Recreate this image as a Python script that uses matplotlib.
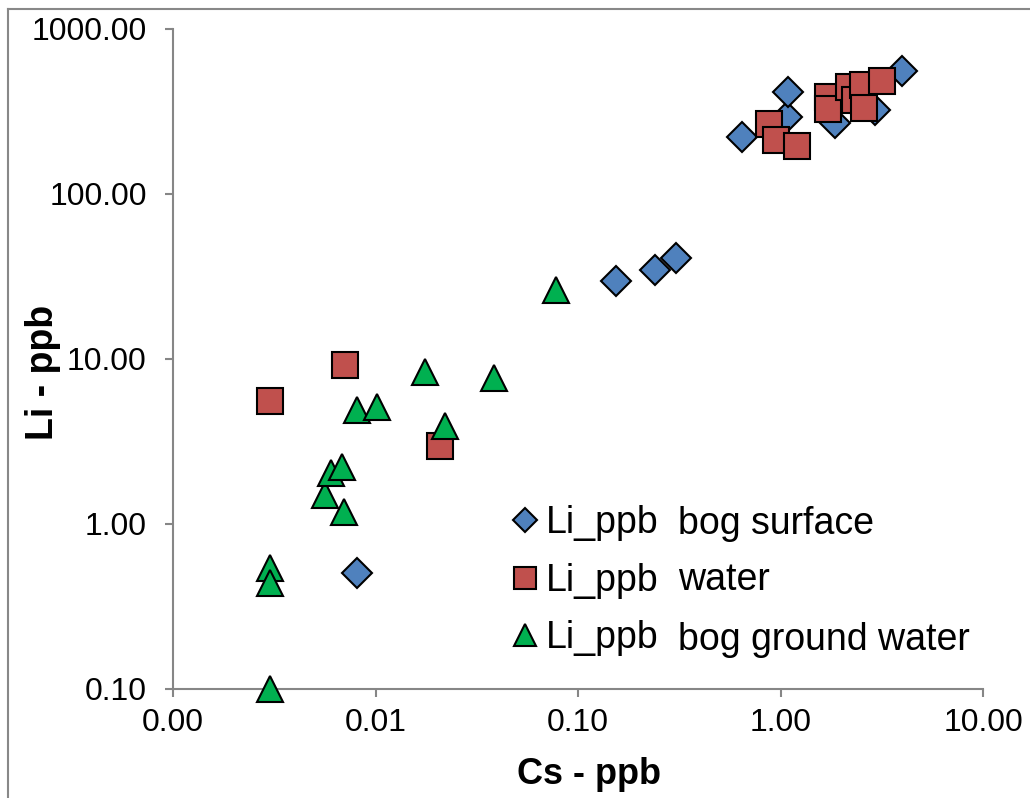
"""
Li vs Cs scatter (log-log) for bog surface, water and bog ground water.
"""

import matplotlib
matplotlib.use("Agg")
import matplotlib.pyplot as plt
from matplotlib.lines import Line2D
from matplotlib.ticker import FixedLocator, FuncFormatter, NullLocator

plt.rcParams["font.family"] = ["Liberation Sans", "DejaVu Sans"]

# Data (ppb)
bog_surface_cs = [0.00811, 0.154, 0.240, 0.305, 0.643, 1.08, 1.093, 1.858, 2.93, 3.97]
bog_surface_li = [0.505, 29.7, 34.6, 41.0, 222, 294, 417, 268, 323, 559]

water_cs = [0.00301, 0.00707, 0.0208, 0.877, 0.950, 1.206, 1.717, 1.717,
            2.18, 2.33, 2.55, 2.58, 3.17]
water_li = [5.56, 9.2, 2.97, 265, 212, 195, 387, 328, 445, 371, 458, 332, 484]

ground_cs = [0.00301, 0.00301, 0.00301, 0.00563, 0.00603, 0.00683, 0.00699,
             0.00811, 0.01017, 0.01755, 0.0385, 0.0220, 0.0778]
ground_li = [0.10, 0.541, 0.439, 1.50, 2.04, 2.21, 1.18, 4.91, 5.12, 8.34,
             7.67, 3.93, 26.2]

series_names = ["Li_ppb", "Li_ppb", "Li_ppb"]
series_notes = ["bog surface", "water", "bog ground water"]
x_ticks = [0.001, 0.01, 0.1, 1, 10]
y_ticks = [0.1, 1, 10, 100, 1000]

fig = plt.figure(figsize=(10.3, 7.98), dpi=100)
ax = fig.add_axes([0.168, 0.1366, 0.7864, 0.8271])

# Draw series in Excel order so later ones sit on top
ax.plot(bog_surface_cs, bog_surface_li, linestyle="none", marker="D",
        markersize=15, markerfacecolor="#4F81BD", markeredgecolor="black",
        markeredgewidth=1.5, label=series_names[0], clip_on=False, zorder=3)
ax.plot(water_cs, water_li, linestyle="none", marker="s",
        markersize=19, markerfacecolor="#C0504D", markeredgecolor="black",
        markeredgewidth=1.5, label=series_names[1], clip_on=False, zorder=3)
ax.plot(ground_cs, ground_li, linestyle="none", marker="^",
        markersize=19, markerfacecolor="#00B050", markeredgecolor="black",
        markeredgewidth=1.5, label=series_names[2], clip_on=False, zorder=3)

ax.set_xscale("log")
ax.set_yscale("log")
ax.set_xlim(0.001, 10)
ax.set_ylim(0.1, 1000)

fmt = FuncFormatter(lambda v, pos: f"{v:.2f}")
ax.xaxis.set_major_locator(FixedLocator(x_ticks))
ax.yaxis.set_major_locator(FixedLocator(y_ticks))
ax.xaxis.set_major_formatter(fmt)
ax.yaxis.set_major_formatter(fmt)
ax.xaxis.set_minor_locator(NullLocator())
ax.yaxis.set_minor_locator(NullLocator())

for side in ["top", "right"]:
    ax.spines[side].set_visible(False)
for side in ["left", "bottom"]:
    ax.spines[side].set_color("#868686")
    ax.spines[side].set_linewidth(1.5)
    ax.spines[side].set_zorder(0)

ax.tick_params(axis="both", direction="out", length=6, width=1.5,
               color="#868686", labelsize=23)
ax.tick_params(axis="x", pad=8)
ax.tick_params(axis="y", pad=13)

ax.set_xlabel("Cs - ppb", fontsize=26, fontweight="bold", va="center")
ax.set_ylabel("Li - ppb", fontsize=27, fontweight="bold", va="center")
ax.xaxis.set_label_coords(0.513, -0.130)
ax.yaxis.set_label_coords(-0.160, 0.480)

leg = ax.legend(loc="upper left", bbox_to_anchor=(512 / 1030, 1 - 505 / 798),
                bbox_transform=fig.transFigure, frameon=False, fontsize=27,
                numpoints=1, handlelength=0.7, handletextpad=0.2,
                borderpad=0, borderaxespad=0, labelspacing=0.58,
                markerscale=0.82)

note_y = [524, 580, 640]
for note, py in zip(series_notes, note_y):
    fig.text(678 / 1030, 1 - py / 798, note, fontsize=27, va="center", ha="left")

# Chart-area frame, only the left and top edges show in the crop
fig.add_artist(Line2D([8 / 1030, 8 / 1030], [0, 1 - 9 / 798],
                      transform=fig.transFigure, color="#888888", linewidth=1.5))
fig.add_artist(Line2D([8 / 1030, 1], [1 - 9 / 798, 1 - 9 / 798],
                      transform=fig.transFigure, color="#888888", linewidth=1.5))

fig.savefig("out.png", dpi=100)
